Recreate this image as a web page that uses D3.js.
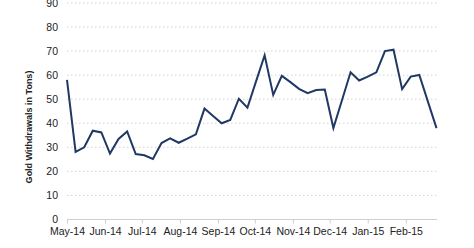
<!DOCTYPE html>
<html>
<head>
<meta charset="utf-8">
<script src="https://cdn.jsdelivr.net/npm/d3@7"></script>
<style>
  body { margin: 0; background: #fff; }
  svg { display: block; font-family: "Liberation Sans", Arial, sans-serif; }
</style>
</head>
<body>
<div id="chart"></div>
<script>
var width = 474;
var height = 248;

// weekly dates (first week of May 2014 to end of Feb 2015)
var weeks = ["2014-05-01","2014-05-08","2014-05-15","2014-05-22","2014-05-29",
    "2014-06-05","2014-06-12","2014-06-19","2014-06-26","2014-07-03","2014-07-10",
    "2014-07-17","2014-07-24","2014-07-31","2014-08-07","2014-08-14","2014-08-21",
    "2014-08-28","2014-09-04","2014-09-11","2014-09-18","2014-09-25","2014-10-02",
    "2014-10-09","2014-10-16","2014-10-23","2014-10-30","2014-11-06","2014-11-13",
    "2014-11-20","2014-11-27","2014-12-04","2014-12-11","2014-12-18","2014-12-25",
    "2015-01-01","2015-01-08","2015-01-15","2015-01-22","2015-01-29","2015-02-05",
    "2015-02-12","2015-02-19","2015-02-26"];

// gold withdrawals in tons
var withdrawals = [58, 28.1, 30, 36.9, 36.2, 27.4, 33.5, 36.6, 27.2, 26.7, 25.2,
    31.8, 33.7, 31.9, 33.6, 35.4, 46.1, 43, 40, 41.4, 50.2, 46.5, 57.4,
    68.3, 51.8, 59.7, 57.1, 54.3, 52.5, 53.8, 54, 38, 49.6, 61.2, 57.8,
    59.4, 61.2, 70, 70.6, 54.2, 59.4, 60.1, 49, 38];

var yTicks = [0, 10, 20, 30, 40, 50, 60, 70, 80, 90];

var parse = d3.timeParse("%Y-%m-%d");
var data = weeks.map(function(w, i) {
    return { date: parse(w), value: withdrawals[i] };
});

var x = d3.scaleTime()
    .domain([parse("2014-05-01"), parse("2015-02-26")])
    .range([67, 436.5]);

var y = d3.scaleLinear()
    .domain([0, 90])
    .range([219.5, 3]);

var svg = d3.select("#chart")
    .append("svg")
    .attr("width", width)
    .attr("height", height);

// gridlines
svg.append("g")
    .selectAll("line")
    .data(yTicks.slice(1))
    .enter()
    .append("line")
    .attr("x1", 67)
    .attr("x2", 437)
    .attr("y1", function(d) { return y(d); })
    .attr("y2", function(d) { return y(d); })
    .attr("stroke", "#d4d4d4")
    .attr("stroke-width", 1)
    .attr("stroke-dasharray", "1.5,2.5");

// y labels
svg.append("g")
    .selectAll("text")
    .data(yTicks)
    .enter()
    .append("text")
    .attr("x", 58)
    .attr("y", function(d) { return y(d); })
    .attr("dy", "0.35em")
    .attr("text-anchor", "end")
    .attr("font-size", "10.5px")
    .attr("fill", "#222")
    .text(function(d) { return d; });

// x axis
var xAxis = d3.axisBottom(x)
    .ticks(d3.timeMonth.every(1))
    .tickFormat(d3.timeFormat("%b-%y"))
    .tickSize(4)
    .tickPadding(4);

var gx = svg.append("g")
    .attr("transform", "translate(0," + y(0) + ")")
    .call(xAxis);

gx.select(".domain")
    .attr("d", "M67,0H437")
    .attr("stroke", "#cfcfcf");
gx.selectAll(".tick line").attr("stroke", "#cfcfcf");
gx.selectAll(".tick text")
    .attr("font-size", "10.5px")
    .attr("font-family", "Liberation Sans, Arial, sans-serif")
    .attr("fill", "#222");

// y title
svg.append("text")
    .attr("transform", "translate(32,127) rotate(-90)")
    .attr("text-anchor", "middle")
    .attr("font-size", "9px")
    .attr("font-weight", "bold")
    .attr("fill", "#222")
    .text("Gold Withdrawals in Tons)");

// line
var line = d3.line()
    .x(function(d) { return x(d.date); })
    .y(function(d) { return y(d.value); });

svg.append("path")
    .datum(data)
    .attr("d", line)
    .attr("fill", "none")
    .attr("stroke", "#1f3864")
    .attr("stroke-width", 2)
    .attr("stroke-linejoin", "miter");
</script>
</body>
</html>
